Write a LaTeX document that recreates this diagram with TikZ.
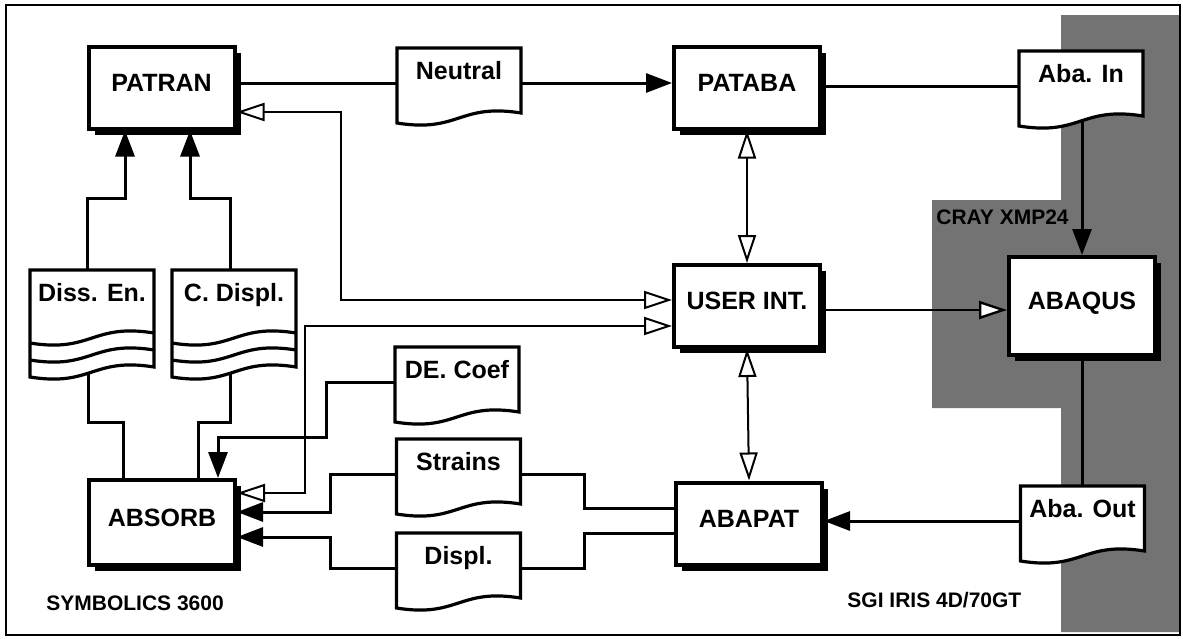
\documentclass[tikz,border=0pt]{standalone}
\usepackage{fontspec}
\setmainfont{Liberation Sans}
\usetikzlibrary{arrows.meta,shadows}

\tikzset{
  procbox/.style={draw, line width=2pt, fill=white, inner sep=0pt, minimum width=73pt, minimum height=41pt,
    text depth=5pt, font=\bfseries\fontsize{12.5}{15}\selectfont,
    drop shadow={shadow xshift=3pt, shadow yshift=-3pt, fill=black, opacity=1}},
  docbox/.style={inner sep=0pt, minimum width=62pt, text height=15.5pt, text depth=19.5pt,
    font=\bfseries\fontsize{12.5}{15}\selectfont},
  storebox/.style={docbox, text depth=35.5pt},
  outline/.style={line width=1.6pt},
  plain/.style={line width=1.5pt},
  flow/.style={plain, -{Triangle[length=13pt, width=9.5pt]}},
  link/.style={line width=1pt, {Triangle[length=14pt, width=9pt, fill=white]}-{Triangle[length=14pt, width=9pt, fill=white]}},
  oneway/.style={line width=1.2pt, -{Triangle[length=14pt, width=9pt, fill=white]}},
  note/.style={anchor=west, inner sep=0pt, font=\bfseries\fontsize{10.5}{12}\selectfont},
  cray/.style={fill=black!55}
}

\newcommand{\docnode}[3]{%
  \draw[outline, fill=white] ([shift={(-62,40)}]#2) -- ([shift={(-62,-35)}]#2) -- ([shift={(62,-35)}]#2) -- ([shift={(62,30)}]#2)
    .. controls ([shift={(0,20)}]#2) and ([shift={(0,50)}]#2) .. ([shift={(-62,40)}]#2) -- cycle;
  \node[docbox] (#1) at (#2) {#3};}

\newcommand{\storenode}[3]{%
  \draw[outline, fill=white] ([shift={(-62,56)}]#2) -- ([shift={(-62,-51)}]#2) -- ([shift={(62,-51)}]#2) -- ([shift={(62,46)}]#2)
    .. controls ([shift={(0,36)}]#2) and ([shift={(0,66)}]#2) .. ([shift={(-62,56)}]#2) -- cycle;
  \draw[outline] ([shift={(-62,39)}]#2) .. controls ([shift={(0,49)}]#2) and ([shift={(0,19)}]#2) .. ([shift={(62,29)}]#2);
  \draw[outline] ([shift={(-62,22)}]#2) .. controls ([shift={(0,32)}]#2) and ([shift={(0,2)}]#2) .. ([shift={(62,12)}]#2);
  \node[storebox] (#1) at (#2) {#3};}

\begin{document}
\begin{tikzpicture}[x=0.5pt, y=-0.5pt]
            \useasboundingbox (0,0) rectangle (1183,638);
            \fill[cray] (1061,15) -- (1180,15) -- (1180,632) -- (1061,632) -- (1061,408) -- (932,408) -- (932,200) -- (1061,200) -- cycle;
            \draw[line width=1.2pt] (6,5) rectangle (1180,635);
            \node[procbox] (patran) at (161.5,87.5) {PATRAN};
            \node[procbox] (pataba) at (747,87.5) {PATABA};
            \node[procbox] (userint) at (747,306) {USER INT.};
            \node[procbox, minimum height=49pt] (abaqus) at (1082,306) {ABAQUS};
            \node[procbox] (abapat) at (749,523.5) {ABAPAT};
            \node[procbox, minimum height=42.5pt] (absorb) at (162,522.5) {ABSORB};
            \docnode{neutral}{459,83}{Neutral}
            \docnode{abain}{1081,86}{Aba. In}
            \docnode{decoef}{457,382}{DE. Coef}
            \docnode{strains}{458.5,474}{Strains}
            \docnode{displ}{458.5,568}{Displ.}
            \docnode{abaout}{1082.5,521}{Aba. Out}
            \storenode{dissen}{92,321}{Diss. En.}
            \storenode{cdispl}{234,321}{C. Displ.}
            \node[note] (symbolics) at (46,603) {SYMBOLICS 3600};
            \node[note] (sgi) at (847,600) {SGI IRIS 4D/70GT};
            \node[note] (crayxmp) at (936,217) {CRAY XMP24};
            \draw[plain] (patran.east |- neutral.west) -- (neutral.west);
            \draw[flow] (neutral.east) -- (neutral.east -| pataba.west);
            \draw[plain] (pataba.east |- abain.west) -- (abain.west);
            \draw[flow] (abaqus.north |- abain.south) -- (abaqus.north);
            \draw[plain] (abaqus.south) -- (abaqus.south |- abaout.north);
            \draw[flow] (abaout.west) -- (abaout.west -| abapat.east);
            \draw[oneway] ([yshift=-2pt]userint.east) -- ([yshift=-2pt]abaqus.west);
            \draw[link] (pataba.south) -- (userint.north);
            \draw[link] (userint.south) -- (abapat.north);
            \draw[link] ([yshift=-12.25pt]patran.east) -| (341,300) -- ([yshift=3pt]userint.west);
            \draw[link] ([yshift=-10pt]userint.west) -| (305,493) -- ([yshift=14.75pt]absorb.east);
            \draw[flow] (decoef.west) -| (326,437) -| ([xshift=28pt]absorb.north);
            \draw[flow] (strains.west) -| (330,512) -- ([yshift=5.25pt]absorb.east);
            \draw[flow] (displ.west) -| (330,537) -- ([yshift=-7.25pt]absorb.east);
            \draw[plain] ([yshift=7.75pt]abapat.west) -| (584,474) -- (strains.east);
            \draw[plain] ([yshift=-4.75pt]abapat.west) -| (584,568) -- (displ.east);
            \draw[plain] ([xshift=-19.5pt]absorb.north) |- (88,422) -- ([xshift=-2pt]dissen.south);
            \draw[plain] ([xshift=18pt]absorb.north) |- (230,422) -- ([xshift=-2pt]cdispl.south);
            \draw[flow] ([xshift=-2.5pt]dissen.north) |- (125,198) -- ([xshift=-18.25pt]patran.south);
            \draw[flow] ([xshift=-2pt]cdispl.north) |- (190,198) -- ([xshift=14.25pt]patran.south);
\end{tikzpicture}
\end{document}
